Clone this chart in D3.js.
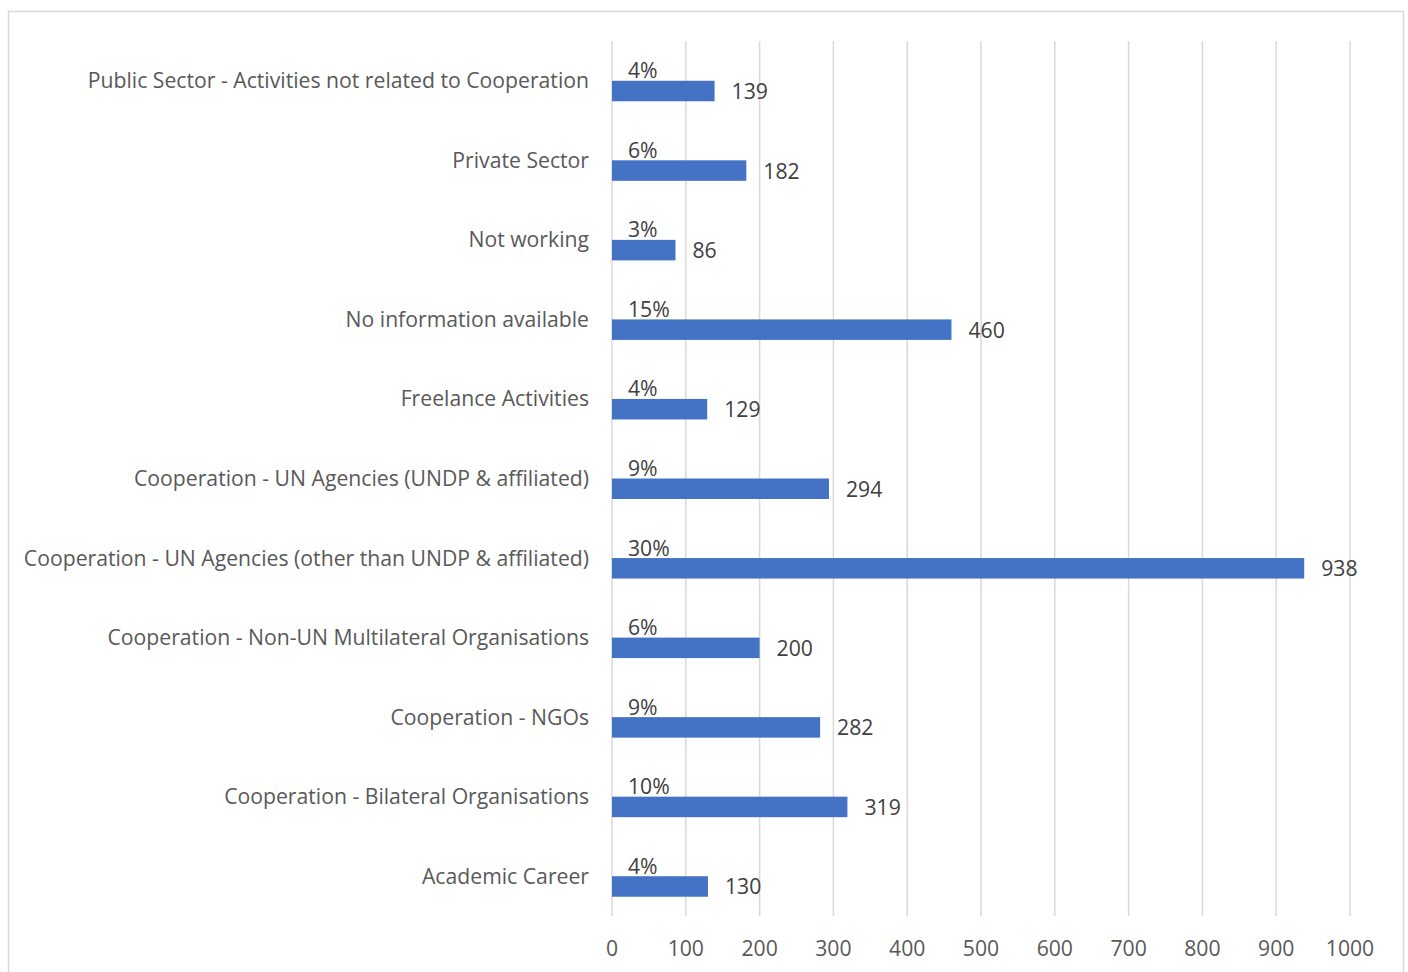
<!DOCTYPE html>
<html><head><meta charset="utf-8">
<script src="https://cdn.jsdelivr.net/npm/d3@7"></script>
<style>
body{margin:0;background:#fff;}
svg text{font-family:"Open Sans",Lato,sans-serif;}
</style></head>
<body>
<svg id="chart" width="1408" height="972"></svg>
<script>
const categories = [
  "Public Sector - Activities not related to Cooperation",
  "Private Sector",
  "Not working",
  "No information available",
  "Freelance Activities",
  "Cooperation - UN Agencies (UNDP & affiliated)",
  "Cooperation - UN Agencies (other than UNDP & affiliated)",
  "Cooperation - Non-UN Multilateral Organisations",
  "Cooperation - NGOs",
  "Cooperation - Bilateral Organisations",
  "Academic Career"
];
const counts = [139, 182, 86, 460, 129, 294, 938, 200, 282, 319, 130];
const shares = ["4%", "6%", "3%", "15%", "4%", "9%", "30%", "6%", "9%", "10%", "4%"];
const xTicks = [0, 100, 200, 300, 400, 500, 600, 700, 800, 900, 1000];

const svg = d3.select("#chart");
svg.append("rect").attr("x",8.5).attr("y",11.5).attr("width",1395).attr("height",975)
  .attr("fill","#fff").attr("stroke","#D9D9D9").attr("stroke-width",1.5);

const x = d3.scaleLinear().domain([0,1000]).range([612,1350]);
const y = d3.scaleBand().domain(categories).range([41,916]);

// grid
svg.append("g").selectAll("line").data(xTicks).join("line")
  .attr("x1",d=>x(d)).attr("x2",d=>x(d)).attr("y1",41).attr("y2",916)
  .attr("stroke","#D9D9D9").attr("stroke-width",1.5);

const barH = 20.5;
svg.append("g").selectAll("rect").data(categories).join("rect")
  .attr("x",x(0)).attr("y",d=>y(d)+y.bandwidth()/2)
  .attr("width",(d,i)=>x(counts[i])-x(0)).attr("height",barH)
  .attr("fill","#4472C4");

const fs = 21.2;
// category labels
svg.append("g").selectAll("text").data(categories).join("text")
  .attr("x",589).attr("y",d=>y(d)+y.bandwidth()/2+7.5)
  .attr("text-anchor","end").attr("font-size",fs).attr("fill","#595959").text(d=>d);

// value labels
svg.append("g").selectAll("text").data(categories).join("text")
  .attr("x",(d,i)=>x(counts[i])+17).attr("y",d=>y(d)+y.bandwidth()/2+barH/2+8)
  .attr("font-size",fs).attr("fill","#404040").text((d,i)=>counts[i]);

// share labels
svg.append("g").selectAll("text").data(categories).join("text")
  .attr("x",x(0)+16).attr("y",d=>y(d)+y.bandwidth()/2-2.5)
  .attr("font-size",fs).attr("fill","#404040").text((d,i)=>shares[i]);

// x axis labels
svg.append("g").selectAll("text").data(xTicks).join("text")
  .attr("x",d=>x(d)).attr("y",956).attr("text-anchor","middle")
  .attr("font-size",fs).attr("fill","#595959").text(d=>d);
</script>
</body></html>
